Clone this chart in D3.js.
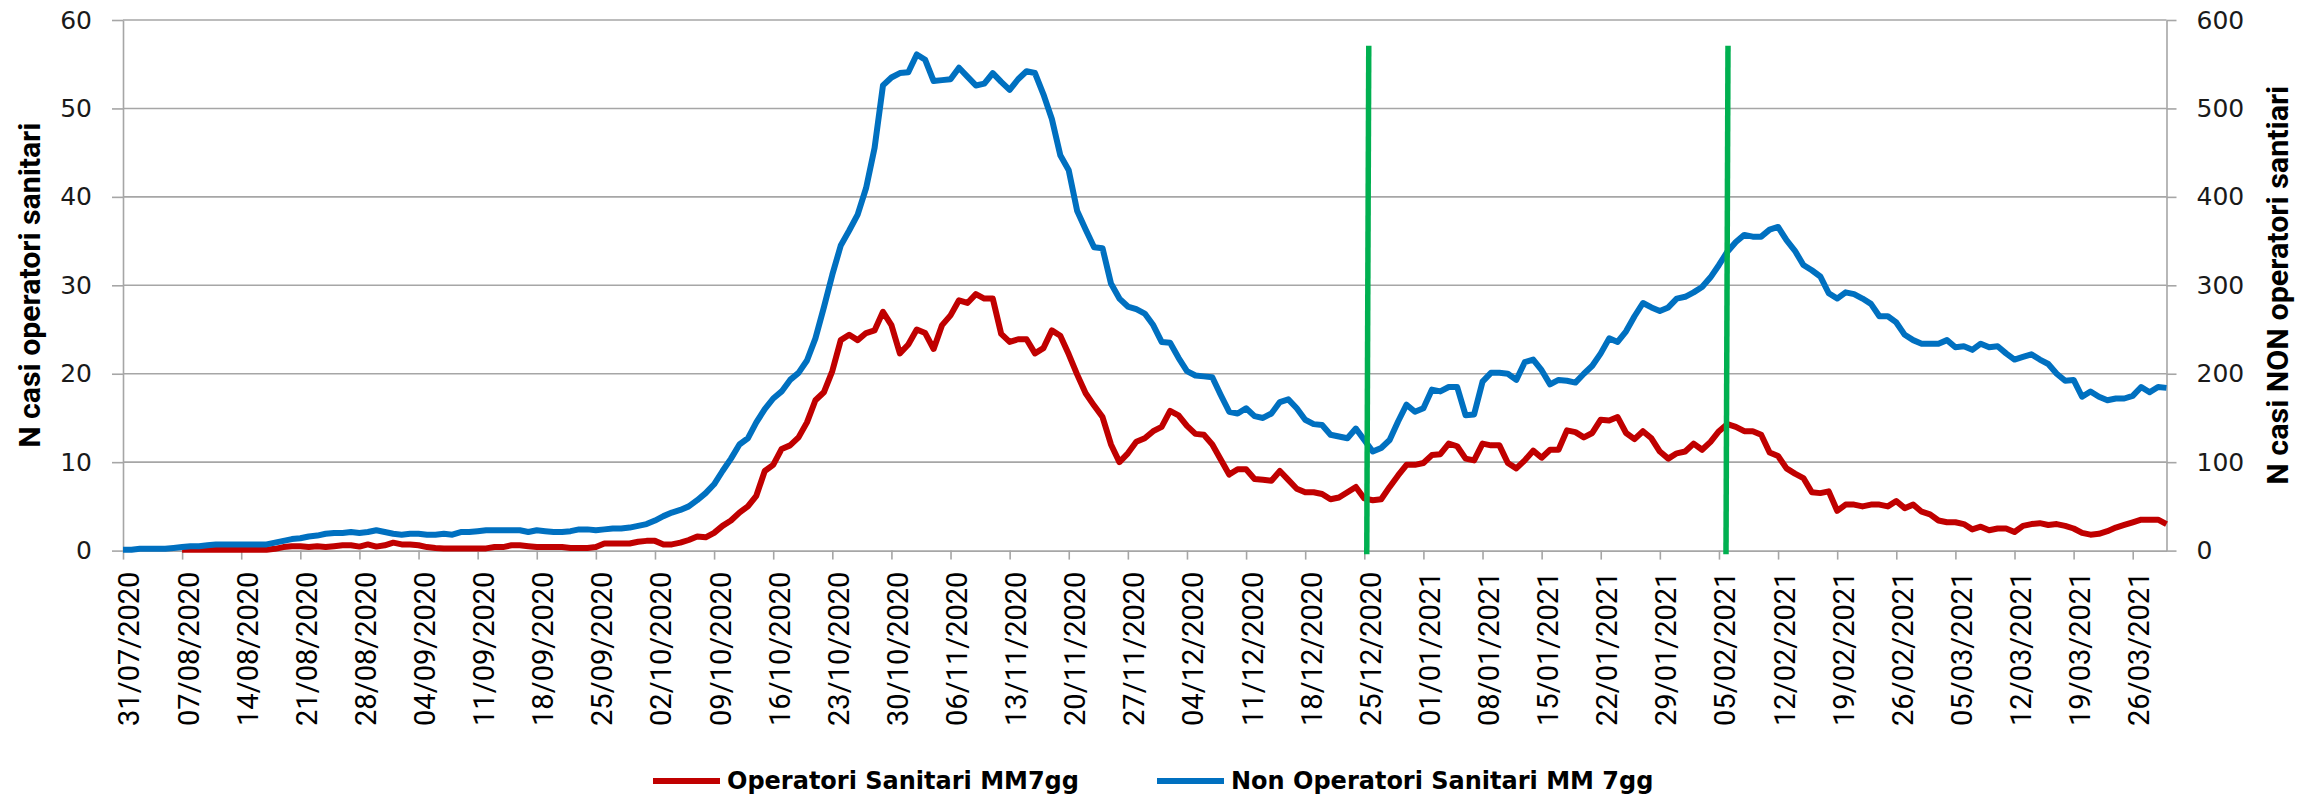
<!DOCTYPE html>
<html lang="it">
<head>
<meta charset="UTF-8">
<title>Operatori Sanitari MM7gg</title>
<script src="https://cdn.jsdelivr.net/npm/d3@7"></script>
<style>
  body { margin: 0; background: #fff; }
  .grid line { stroke: #a6a6a6; stroke-width: 1.6; }
  .axis path, .axis line { stroke: #a6a6a6; stroke-width: 1.6; fill: none; }
  .yaxis text { font-family: "DejaVu Sans", Verdana, sans-serif; font-size: 25px; fill: #1a1a1a; }
  .xaxis text { font-family: Roboto, "Liberation Sans", sans-serif; font-size: 29px; fill: #000; }
  .title { font-family: Roboto, "Liberation Sans", sans-serif; font-size: 29px; font-weight: bold; fill: #000; }
  .legend text { font-family: "DejaVu Sans", Verdana, sans-serif; font-size: 24px; font-weight: bold; fill: #000; }
</style>
</head>
<body>
<svg width="2312" height="801"></svg>
<script>
var startDate = '31/07/2020'
var endDate = '30/03/2021'

// operatori sanitari, media mobile 7gg (asse sinistro)
var operatori = [
  null, null, null, null, null, null, null, 0.1, 0.1, 0.1,
  0.1, 0.1, 0.1, 0.1, 0.1, 0.1, 0.1, 0.1, 0.2, 0.4,
  0.5, 0.5, 0.4, 0.5, 0.4, 0.5, 0.6, 0.6, 0.45, 0.7,
  0.45, 0.6, 0.9, 0.7, 0.7, 0.6, 0.4, 0.3, 0.25, 0.25,
  0.25, 0.25, 0.25, 0.25, 0.4, 0.4, 0.6, 0.6, 0.5, 0.4,
  0.4, 0.4, 0.4, 0.3, 0.3, 0.3, 0.4, 0.8, 0.8, 0.8,
  0.8, 1.0, 1.1, 1.1, 0.7, 0.7, 0.9, 1.2, 1.6, 1.5,
  2.0, 2.8, 3.4, 4.3, 5.0, 6.2, 9.0, 9.7, 11.5, 11.9,
  12.8, 14.5, 17.0, 17.9, 20.3, 23.8, 24.4, 23.8, 24.6, 24.9,
  27.0, 25.5, 22.3, 23.3, 25.0, 24.6, 22.8, 25.5, 26.6, 28.3,
  28.0, 29.0, 28.5, 28.5, 24.5, 23.6, 23.9, 23.9, 22.3, 22.9,
  24.9, 24.3, 22.2, 19.9, 17.8, 16.4, 15.1, 12.0, 10.0, 11.0,
  12.3, 12.7, 13.5, 14.0, 15.8, 15.3, 14.1, 13.2, 13.1, 12.0,
  10.3, 8.6, 9.2, 9.2, 8.1, 8.0, 7.9, 9.0, 8.0, 7.0,
  6.6, 6.6, 6.4, 5.8, 6.0, 6.6, 7.2, 5.9, 5.7, 5.8,
  7.2, 8.5, 9.7, 9.7, 9.9, 10.8, 10.9, 12.1, 11.8, 10.4,
  10.2, 12.1, 11.9, 11.9, 9.9, 9.3, 10.2, 11.3, 10.5, 11.4,
  11.4, 13.6, 13.4, 12.8, 13.3, 14.8, 14.7, 15.1, 13.3, 12.6,
  13.5, 12.7, 11.2, 10.4, 11.0, 11.2, 12.1, 11.4, 12.3, 13.5,
  14.3, 14.0, 13.5, 13.5, 13.1, 11.1, 10.7, 9.3, 8.7, 8.2,
  6.6, 6.5, 6.7, 4.5, 5.2, 5.2, 5.0, 5.2, 5.2, 5.0,
  5.6, 4.8, 5.2, 4.4, 4.1, 3.4, 3.2, 3.2, 3.0, 2.4,
  2.7, 2.3, 2.5, 2.5, 2.1, 2.8, 3.0, 3.1, 2.9, 3.0,
  2.8, 2.5, 2.0, 1.8, 1.9, 2.2, 2.6, 2.9, 3.2, 3.5,
  3.5, 3.5, 3.0
]

// non operatori sanitari, media mobile 7gg (asse destro)
var nonOperatori = [
  1, 1, 2, 2, 2, 2, 3, 4, 5, 5,
  6, 7, 7, 7, 7, 7, 7, 7, 9, 11,
  13, 14, 16, 17, 19, 20, 20, 21, 20, 21,
  23, 21, 19, 18, 19, 19, 18, 18, 19, 18,
  21, 21, 22, 23, 23, 23, 23, 23, 21, 23,
  22, 21, 21, 22, 24, 24, 23, 24, 25, 25,
  26, 28, 30, 34, 39, 43, 46, 50, 57, 65,
  75, 90, 104, 120, 127, 145, 160, 172, 180, 193,
  201, 215, 240, 275, 312, 345, 362, 380, 410, 455,
  526, 535, 540, 541, 561, 555, 531, 532, 533, 546,
  536, 526, 528, 540, 530, 521, 533, 542, 540, 516,
  488, 447, 430, 384, 363, 343, 342, 302, 285, 276,
  273, 268, 255, 236, 235, 218, 203, 198, 197, 196,
  176, 157, 155, 161, 152, 150, 155, 168, 171, 161,
  148, 143, 142, 131, 129, 127, 138, 125, 112, 116,
  125, 146, 165, 157, 161, 182, 180, 185, 185, 153,
  154, 191, 201, 201, 200, 193, 213, 216, 204, 188,
  193, 192, 190, 200, 209, 223, 240, 236, 248, 265,
  280, 275, 271, 275, 285, 287, 292, 298, 309, 323,
  338, 349, 357, 355, 355, 363, 366, 351, 339, 323,
  317, 310, 291, 285, 292, 290, 285, 279, 265, 265,
  258, 244, 238, 234, 234, 234, 238, 230, 231, 227,
  234, 230, 231, 223, 216, 219, 222, 216, 211, 200,
  192, 193, 174, 180, 174, 170, 172, 172, 175, 185,
  179, 185, 184
]

var tickLabels = [
  '31/07/2020', '07/08/2020', '14/08/2020', '21/08/2020', '28/08/2020',
  '04/09/2020', '11/09/2020', '18/09/2020', '25/09/2020', '02/10/2020',
  '09/10/2020', '16/10/2020', '23/10/2020', '30/10/2020', '06/11/2020',
  '13/11/2020', '20/11/2020', '27/11/2020', '04/12/2020', '11/12/2020',
  '18/12/2020', '25/12/2020', '01/01/2021', '08/01/2021', '15/01/2021',
  '22/01/2021', '29/01/2021', '05/02/2021', '12/02/2021', '19/02/2021',
  '26/02/2021', '05/03/2021', '12/03/2021', '19/03/2021', '26/03/2021'
]
var leftTicks = [0, 10, 20, 30, 40, 50, 60]
var rightTicks = [0, 100, 200, 300, 400, 500, 600]
// linee verdi (data e ora)
var markerDates = ['25/12/2020 07', '05/02/2021 20']

var parseDay = d3.utcParse('%d/%m/%Y')
var parseHour = d3.utcParse('%d/%m/%Y %H')
var days = d3.utcDay.range(parseDay(startDate), d3.utcDay.offset(parseDay(endDate), 1))

var margin = { top: 20, right: 145.5, bottom: 250.4, left: 123 }
var width = 2312, height = 801

var x = d3.scaleUtc()
  .domain([parseDay(startDate), parseDay(endDate)])
  .range([margin.left, width - margin.right])
var yL = d3.scaleLinear().domain([0, 60]).range([height - margin.bottom, margin.top])
var yR = d3.scaleLinear().domain([0, 600]).range([height - margin.bottom, margin.top])

var svg = d3.select('svg')
svg.append('rect').attr('width', width).attr('height', height).attr('fill', '#fff')

// griglia orizzontale
svg.append('g').attr('class', 'grid')
  .selectAll('line')
  .data(leftTicks.slice(1))
  .enter().append('line')
  .attr('x1', margin.left)
  .attr('x2', width - margin.right)
  .attr('y1', function(d) { return yL(d) })
  .attr('y2', function(d) { return yL(d) })

// asse sinistro
svg.append('g')
  .attr('class', 'axis yaxis')
  .attr('transform', 'translate(' + margin.left + ',0)')
  .call(d3.axisLeft(yL).tickValues(leftTicks).tickSize(11).tickPadding(20).tickSizeOuter(0))

// asse destro
svg.append('g')
  .attr('class', 'axis yaxis')
  .attr('transform', 'translate(' + (width - margin.right) + ',0)')
  .call(d3.axisRight(yR).tickValues(rightTicks).tickSize(10).tickPadding(20).tickSizeOuter(0))

// asse x con etichette ruotate
var fmt = d3.utcFormat('%d/%m/%Y')
var gx = svg.append('g')
  .attr('class', 'axis xaxis')
  .attr('transform', 'translate(0,' + (height - margin.bottom) + ')')
  .call(d3.axisBottom(x).tickValues(tickLabels.map(parseDay)).tickFormat(fmt).tickSize(9).tickSizeOuter(0))
gx.selectAll('text')
  .attr('transform', 'rotate(-90)')
  .attr('text-anchor', 'end')
  .attr('x', -21)
  .attr('y', 0)
  .attr('dy', '0.55em')

// serie
var lineL = d3.line()
  .defined(function(d) { return d != null })
  .x(function(d, i) { return x(days[i]) })
  .y(function(d) { return yL(d) })
var lineR = d3.line()
  .x(function(d, i) { return x(days[i]) })
  .y(function(d) { return yR(d) })

svg.append('path')
  .datum(operatori)
  .attr('fill', 'none')
  .attr('stroke', '#c00000')
  .attr('stroke-width', 6)
  .attr('stroke-linejoin', 'round')
  .attr('d', lineL)

svg.append('path')
  .datum(nonOperatori)
  .attr('fill', 'none')
  .attr('stroke', '#0070c0')
  .attr('stroke-width', 6)
  .attr('stroke-linejoin', 'round')
  .attr('d', lineR)

// linee verticali verdi
svg.selectAll('.marker')
  .data(markerDates.map(parseHour))
  .enter().append('line')
  .attr('class', 'marker')
  .attr('x1', function(d) { return x(d) })
  .attr('x2', function(d) { return x(d) + 2 })
  .attr('y1', yL(-0.4))
  .attr('y2', yL(57.1))
  .attr('stroke', '#00b050')
  .attr('stroke-width', 5.5)

// titoli assi
svg.append('text')
  .attr('class', 'title')
  .attr('transform', 'translate(30,' + yL(30) + ') rotate(-90)')
  .attr('text-anchor', 'middle')
  .attr('dy', '0.35em')
  .attr('textLength', 325)
  .attr('lengthAdjust', 'spacingAndGlyphs')
  .text('N casi operatori sanitari')

svg.append('text')
  .attr('class', 'title')
  .attr('transform', 'translate(2278,' + yL(30) + ') rotate(-90)')
  .attr('text-anchor', 'middle')
  .attr('dy', '0.35em')
  .attr('textLength', 399)
  .attr('lengthAdjust', 'spacingAndGlyphs')
  .text('N casi NON operatori santiari')

// legenda
var legendItems = [
  { label: 'Operatori Sanitari MM7gg', color: '#c00000', x: 653 },
  { label: 'Non Operatori Sanitari MM 7gg', color: '#0070c0', x: 1157 }
]
var lg = svg.append('g').attr('class', 'legend')
var item = lg.selectAll('g').data(legendItems).enter().append('g')
  .attr('transform', function(d) { return 'translate(' + d.x + ',781)' })
item.append('line')
  .attr('x1', 0).attr('x2', 67)
  .attr('stroke', function(d) { return d.color })
  .attr('stroke-width', 6)
item.append('text')
  .attr('x', 74)
  .attr('dy', '0.35em')
  .text(function(d) { return d.label })
</script>
</body>
</html>
